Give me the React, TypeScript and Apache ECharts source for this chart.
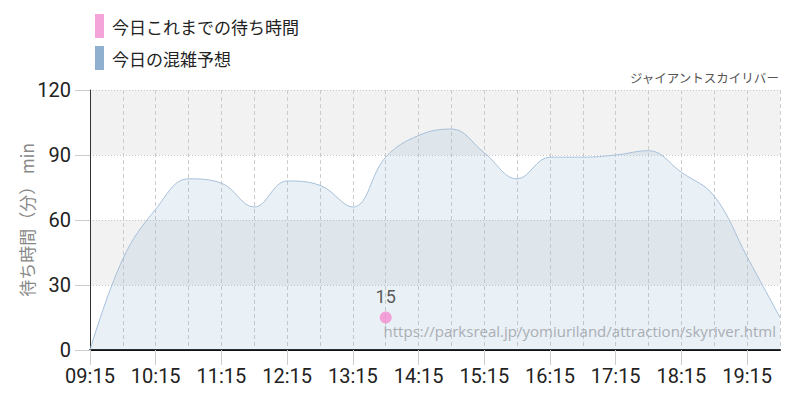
import React, { useEffect, useRef } from "react";
import * as echarts from "echarts";

const times = [
  "09:15", "09:45", "10:15", "10:45", "11:15", "11:45", "12:15", "12:45",
  "13:15", "13:45", "14:15", "14:45", "15:15", "15:45", "16:15", "16:45",
  "17:15", "17:45", "18:15", "18:45", "19:15", "19:45",
];
const forecast = [0, 42, 65, 79, 77, 66, 78, 76, 66, 89, 99, 102, 91, 79, 89, 89, 90, 92, 82, 71, 43, 15];
const actual: (number | string)[] = ["-", "-", "-", "-", "-", "-", "-", "-", "-", 15, "-", "-", "-", "-", "-", "-", "-", "-", "-", "-", "-", "-"];
const actualName = "今日これまでの待ち時間";
const forecastName = "今日の混雑予想";
const attractionName = "ジャイアントスカイリバー";
const sourceUrl = "https://parksreal.jp/yomiuriland/attraction/skyriver.html";
const yAxisName = "待ち時間（分） min";
const yMin = 0;
const yMax = 120;
const yStep = 30;

const NARROW = "Roboto, 'Liberation Sans Narrow', sans-serif";
const JP = "'Noto Sans CJK JP', 'Noto Sans', sans-serif";

export default function App() {
  const ref = useRef<HTMLDivElement>(null);
  useEffect(() => {
    if (!ref.current) return;
    const chart = echarts.init(ref.current, undefined, { renderer: "svg" });
    chart.setOption({
      animation: false,
      backgroundColor: "#ffffff",
      legend: {
        orient: "vertical",
        left: 95,
        top: 14,
        padding: 0,
        icon: "rect",
        itemWidth: 9,
        itemHeight: 24,
        itemGap: 8,
        textStyle: { fontFamily: JP, fontSize: 17, color: "#222", padding: [0, 0, 0, 3] },
        data: [actualName, forecastName],
      },
      grid: { left: 90, right: 20, top: 90, bottom: 50 },
      xAxis: {
        type: "category",
        data: times,
        boundaryGap: false,
        axisLine: { lineStyle: { color: "#111", width: 2 } },
        axisTick: { show: true, interval: 1, length: 15, lineStyle: { color: "#ccc" } },
        axisLabel: { interval: 1, margin: 16, fontFamily: NARROW, fontWeight: "normal", fontSize: 20, color: "#222" },
        splitLine: { show: true, interval: 0, lineStyle: { color: "#ccc", type: [4, 3] } },
      },
      yAxis: {
        type: "value",
        min: yMin,
        max: yMax,
        interval: yStep,
        name: yAxisName,
        nameLocation: "middle",
        nameGap: 55,
        nameMoveOverlap: false,
        nameRotate: 90,
        nameTextStyle: { fontFamily: JP, fontSize: 17, color: "#888" },
        axisLine: { show: true, lineStyle: { color: "#333", width: 1 } },
        axisTick: { show: true, length: 15, lineStyle: { color: "#ccc" } },
        axisLabel: { margin: 19, fontFamily: NARROW, fontWeight: "normal", fontSize: 20, color: "#222" },
        splitLine: { show: true, lineStyle: { color: "#c8c8c8", type: [1, 2] } },
        splitArea: { show: true, areaStyle: { color: ["#ffffff", "#f2f2f2"] } },
      },
      graphic: [
        {
          type: "text",
          right: 20,
          top: 71,
          style: { text: attractionName, font: `12.5px ${JP}`, fill: "#555" },
        },
        {
          type: "text",
          right: 24,
          top: 323,
          z: 10,
          style: { text: sourceUrl, font: `15px 'Open Sans', 'Noto Sans', sans-serif`, fill: "#a9aeb4" },
        },
      ],
      series: [
        {
          name: actualName,
          type: "scatter",
          data: actual,
          symbol: "circle",
          symbolSize: 12,
          itemStyle: { color: "#f28dcf" },
          z: 5,
          label: {
            show: true,
            position: "top",
            distance: 6,
            fontFamily: NARROW,
            fontWeight: "normal",
            fontSize: 18,
            color: "#333",
          },
        },
        {
          name: forecastName,
          type: "line",
          data: forecast,
          smooth: 0.4,
          showSymbol: false,
          symbol: "none",
          itemStyle: { color: "#8fb0cf" },
          lineStyle: { color: "#a6c0da", width: 1 },
          areaStyle: { color: "rgba(143,176,207,0.28)" },
          z: 2,
        },
      ],
    });
    return () => chart.dispose();
  }, []);
  return <div ref={ref} style={{ position: "fixed", left: 0, top: 0, width: 800, height: 400 }} />;
}
